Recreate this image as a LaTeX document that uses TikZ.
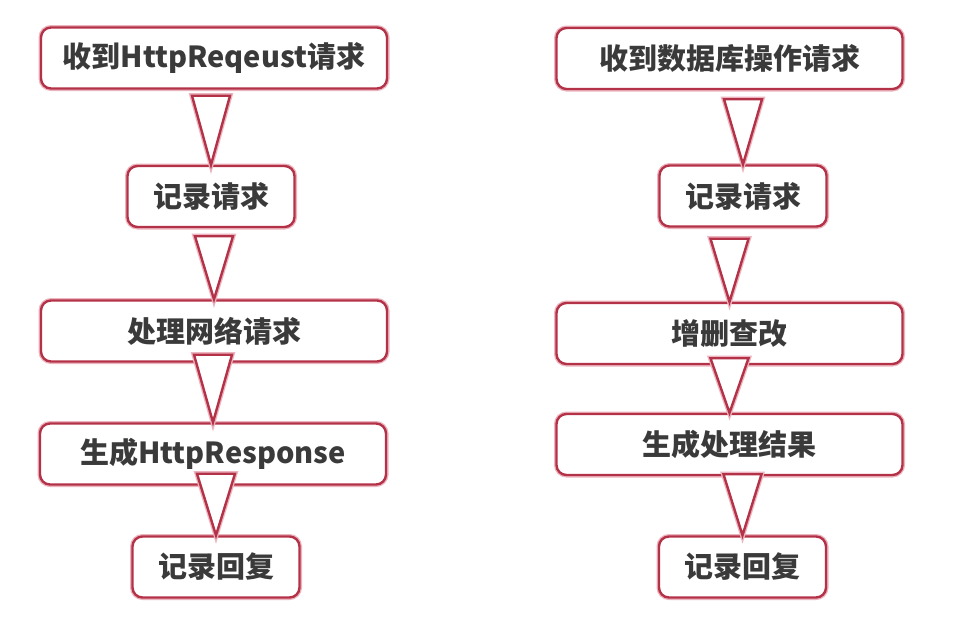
\documentclass[tikz,border=0pt]{standalone}
\usepackage{fontspec}
\newfontfamily\cjk{Noto Sans CJK SC}
\usetikzlibrary{calc}
\definecolor{boxred}{RGB}{180,50,72}
\definecolor{halo}{RGB}{236,180,190}
\definecolor{txt}{RGB}{58,58,58}
\tikzset{
  stepbox/.style={draw=boxred, line width=2.4pt, fill=white, rounded corners=10pt,
    inner sep=0pt, minimum height=61pt, text=txt,
    font=\cjk\bfseries\fontsize{29}{34}\selectfont,
    preaction={draw=halo, line width=5pt}},
  wide/.style={stepbox, minimum width=346pt},
  narrow/.style={stepbox, minimum width=167pt},
  tri/.style={draw=boxred, line width=2.4pt, fill=white, line join=miter,
    preaction={draw=halo, line width=5pt}}
}
\begin{document}
\begin{tikzpicture}[x=1pt,y=-1pt]
\useasboundingbox (0,0) rectangle (970,630);
\fill[white] (0,0) rectangle (970,630);
% left column
\node[wide]   (l1) at (214,58)    {收到HttpReqeust请求};
\node[narrow] (l2) at (211,196.5) {记录请求};
\node[wide]   (l3) at (214,331)   {处理网络请求};
\node[wide]   (l4) at (213,454)   {生成HttpResponse};
\node[narrow] (l5) at (216,567)   {记录回复};
% right column
\node[wide]   (r1) at (729.5,58.5)  {收到数据库操作请求};
\node[narrow] (r2) at (743,196)     {记录请求};
\node[wide]   (r3) at (729.5,333.5) {增删查改};
\node[wide]   (r4) at (729.5,444.5) {生成处理结果};
\node[narrow] (r5) at (742.5,567)   {记录回复};
% hollow triangle connectors
\foreach \a/\b/\dy in {l1/l2/6, l2/l3/8, l3/l4/-8, l4/l5/-12,
                       r1/r2/9, r2/r3/11, r3/r4/-7, r4/r5/-2}{
  \draw[tri] ($(\b.north |- \a.south)+(-19,\dy)$) -- ($(\b.north |- \a.south)+(19,\dy)$) -- (\b.north) -- cycle;
}
\end{tikzpicture}
\end{document}
